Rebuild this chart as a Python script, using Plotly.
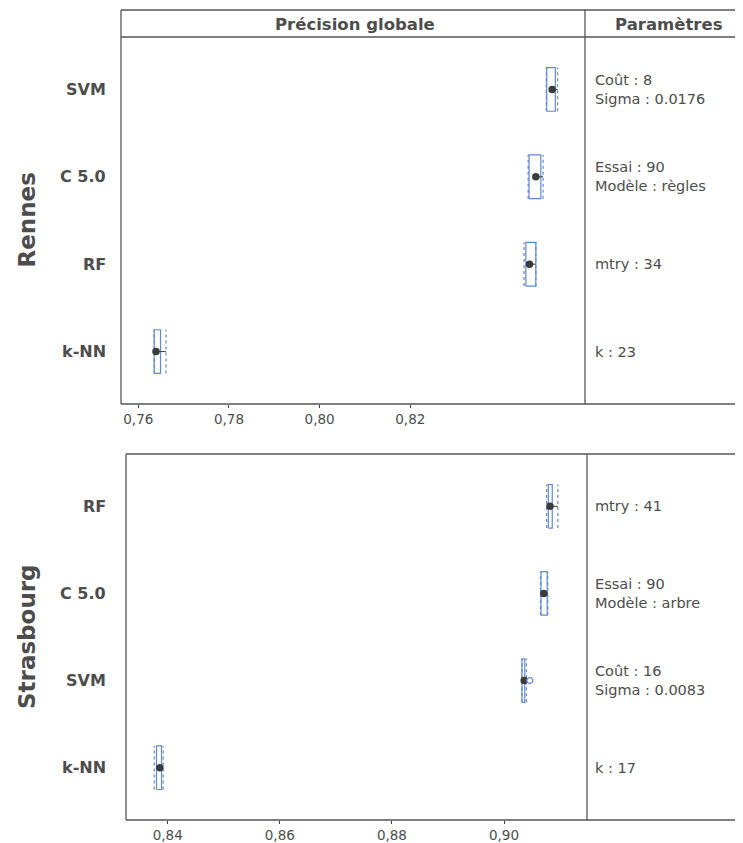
import plotly.graph_objects as go

# the page has an 8px body margin: the figure starts at (8, 8) in the window
OFF = 8
W, H = 743 - 2 * OFF, 843 - OFF

# ---------------- data ----------------
rennes_models = ["SVM", "C 5.0", "RF", "k-NN"]
rennes_mean = [0.8513, 0.8477, 0.8463, 0.7639]
rennes_box_lo = [0.8501, 0.8462, 0.8455, 0.7635]
rennes_box_hi = [0.8520, 0.8488, 0.8477, 0.7649]
rennes_dot_lo = [0.8500, 0.8460, 0.8451, 0.7635]
rennes_dot_hi = [0.8525, 0.8493, 0.8477, 0.7661]
rennes_params = ["Coût : 8<br>Sigma : 0.0176", "Essai : 90<br>Modèle : règles", "mtry : 34", "k : 23"]

stras_models = ["RF", "C 5.0", "SVM", "k-NN"]
stras_mean = [0.9082, 0.9071, 0.9036, 0.8386]
stras_box_lo = [0.9079, 0.9066, 0.9032, 0.8380]
stras_box_hi = [0.9086, 0.9077, 0.9037, 0.8389]
stras_dot_lo = [0.9076, 0.9065, 0.9032, 0.8376]
stras_dot_hi = [0.9096, 0.9078, 0.9040, 0.8392]
stras_params = ["mtry : 41", "Essai : 90<br>Modèle : arbre", "Coût : 16<br>Sigma : 0.0083", "k : 17"]
stras_outlier_model = ["SVM"]
stras_outlier_val = [0.9046]

rennes_ticks = [0.76, 0.78, 0.80, 0.82]
rennes_ticktext = ["0,76", "0,78", "0,80", "0,82"]
stras_ticks = [0.84, 0.86, 0.88, 0.90]
stras_ticktext = ["0,84", "0,86", "0,88", "0,90"]

panel_names = ["Rennes", "Strasbourg"]
header_left = "Précision globale"
header_right = "Paramètres"

# ---------------- style ----------------
FONT = "DejaVu Sans"
TXT = "#4d4d4d"
BLUE = "#6088d8"
DOT = "#3b3b3b"
LINE = "#555555"

def px(x):
    return (x - OFF) / W

def py(y):
    return 1 - (y - OFF) / H

fig = go.Figure()

def add_panel(models, mean, blo, bhi, dlo, dhi, xa, ya):
    n = len(models)
    rows = [n - i for i in range(n)]
    bx, by, dx, dy, hx, hy = [], [], [], [], [], []
    for i, r in enumerate(rows):
        bx += [blo[i], bhi[i], bhi[i], blo[i], blo[i], None]
        by += [r - 0.25, r - 0.25, r + 0.25, r + 0.25, r - 0.25, None]
        for v in (dlo[i], dhi[i]):
            dx += [v, v, None]
            dy += [r - 0.25, r + 0.25, None]
        hx += [mean[i], dhi[i], None]
        hy += [r, r, None]
    fig.add_trace(go.Scatter(x=bx, y=by, mode="lines", fill="toself", fillcolor="white",
                             line=dict(color=BLUE, width=1.2), xaxis=xa, yaxis=ya,
                             hoverinfo="skip", showlegend=False))
    fig.add_trace(go.Scatter(x=dx, y=dy, mode="lines",
                             line=dict(color=BLUE, width=1.2, dash="dot"), xaxis=xa, yaxis=ya,
                             hoverinfo="skip", showlegend=False))
    fig.add_trace(go.Scatter(x=hx, y=hy, mode="lines",
                             line=dict(color=DOT, width=1), xaxis=xa, yaxis=ya,
                             hoverinfo="skip", showlegend=False))
    fig.add_trace(go.Scatter(x=mean, y=rows, mode="markers",
                             marker=dict(color=DOT, size=7.5), xaxis=xa, yaxis=ya,
                             showlegend=False))
    return rows

r_rows = add_panel(rennes_models, rennes_mean, rennes_box_lo, rennes_box_hi,
                   rennes_dot_lo, rennes_dot_hi, "x", "y")
s_rows = add_panel(stras_models, stras_mean, stras_box_lo, stras_box_hi,
                   stras_dot_lo, stras_dot_hi, "x2", "y2")

out_rows = [s_rows[stras_models.index(m)] for m in stras_outlier_model]
fig.add_trace(go.Scatter(x=stras_outlier_val, y=out_rows, mode="markers",
                         marker=dict(color="white", size=6, line=dict(color=BLUE, width=1.2)),
                         xaxis="x2", yaxis="y2", showlegend=False))

# panel geometry (window pixels)
L1, DV1 = 121, 585
L2, DV2 = 126, 587
R = 743
T1_top, T1_hdr, T1_bot = 10, 37, 404
T2_top, T2_bot = 454, 820

axis_common = dict(showgrid=False, zeroline=False, showline=False, ticks="outside",
                   ticklen=3, tickwidth=1, tickcolor="#444444", automargin=False,
                   tickfont=dict(family=FONT, size=13.5, color=TXT), fixedrange=True)
yaxis_common = dict(showticklabels=False, showgrid=False, zeroline=False,
                    fixedrange=True, automargin=False, range=[0.4, 4.6])

fig.update_layout(
    width=W, height=H, margin=dict(l=0, r=0, t=0, b=0, autoexpand=False),
    paper_bgcolor="white", plot_bgcolor="white",
    font=dict(family=FONT, color=TXT),
    xaxis=dict(domain=[px(L1), px(DV1)], range=[0.756184, 0.858542], anchor="y",
               tickvals=rennes_ticks, ticktext=rennes_ticktext, **axis_common),
    yaxis=dict(domain=[py(T1_bot), py(T1_hdr)], anchor="x", **yaxis_common),
    xaxis2=dict(domain=[px(L2), px(DV2)], range=[0.832561, 0.914803], anchor="y2",
                tickvals=stras_ticks, ticktext=stras_ticktext, **axis_common),
    yaxis2=dict(domain=[py(T2_bot), py(T2_top)], anchor="x2", **yaxis_common),
)

shapes = []
def hline(y, x0, x1):
    shapes.append(dict(type="line", xref="paper", yref="paper", x0=px(x0), x1=px(x1),
                       y0=py(y), y1=py(y), line=dict(color=LINE, width=1.3)))
def vline(x, y0, y1):
    shapes.append(dict(type="line", xref="paper", yref="paper", x0=px(x), x1=px(x),
                       y0=py(y0), y1=py(y1), line=dict(color=LINE, width=1.3)))

hline(T1_top, L1, R); hline(T1_hdr, L1, R); hline(T1_bot, L1, R)
vline(L1, T1_top, T1_bot); vline(DV1, T1_top, T1_bot)
hline(T2_top, L2, R); hline(T2_bot, L2, R)
vline(L2, T2_top, T2_bot); vline(DV2, T2_top, T2_bot)
fig.update_layout(shapes=shapes)

ann = []
# headers
ann.append(dict(text="<b>%s</b>" % header_left, xref="paper", yref="paper",
                x=px((L1 + DV1) / 2 + 2), y=py((T1_top + T1_hdr) / 2 + 1), showarrow=False,
                font=dict(family=FONT, size=16.5, color=TXT), xanchor="center", yanchor="middle"))
ann.append(dict(text="<b>%s</b>" % header_right, xref="paper", yref="paper",
                x=px(669), y=py((T1_top + T1_hdr) / 2 + 1), showarrow=False,
                font=dict(family=FONT, size=16.5, color=TXT), xanchor="center", yanchor="middle"))
# panel names
for name, (t, b) in zip(panel_names, [(T1_hdr, T1_bot), (T2_top, T2_bot)]):
    ann.append(dict(text="<b>%s</b>" % name, xref="paper", yref="paper",
                    x=px(27), y=py((t + b) / 2), showarrow=False, textangle=-90,
                    font=dict(family=FONT, size=23, color=TXT), xanchor="center", yanchor="middle"))
# model labels and parameters
for models, rows, params, ya in [(rennes_models, r_rows, rennes_params, "y"),
                                 (stras_models, s_rows, stras_params, "y2")]:
    for m, r, p in zip(models, rows, params):
        ann.append(dict(text="<b>%s</b>" % m, xref="paper", yref=ya, x=px(108), y=r,
                        showarrow=False, xanchor="right", yanchor="middle",
                        font=dict(family=FONT, size=16, color=TXT)))
        ann.append(dict(text=p, xref="paper", yref=ya, x=px(593), y=r,
                        showarrow=False, xanchor="left", yanchor="middle", align="left",
                        font=dict(family=FONT, size=14.5, color=TXT)))
fig.update_layout(annotations=ann)

fig.write_html("out.html")
